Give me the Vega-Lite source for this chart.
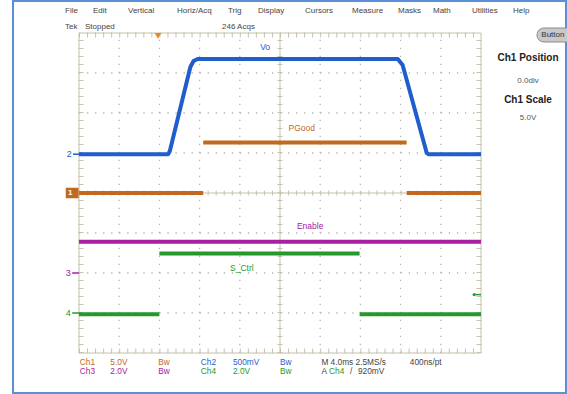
{
  "$schema": "https://vega.github.io/schema/vega-lite/v6.json",
  "width": 567,
  "height": 394,
  "padding": 0,
  "autosize": {"type": "none"},
  "background": "white",
  "config": {"view": {"stroke": null}, "text": {"font": "Liberation Sans"}},
  "datasets": {
    "traces": [
      {"ch": "Ch2", "seg": "a", "i": 0, "x": 0, "y": 4.97},
      {"ch": "Ch2", "seg": "a", "i": 1, "x": 2.22, "y": 4.97},
      {"ch": "Ch2", "seg": "a", "i": 2, "x": 2.26, "y": 5.05},
      {"ch": "Ch2", "seg": "a", "i": 3, "x": 2.77, "y": 7.15},
      {"ch": "Ch2", "seg": "a", "i": 4, "x": 2.85, "y": 7.3},
      {"ch": "Ch2", "seg": "a", "i": 5, "x": 2.95, "y": 7.35},
      {"ch": "Ch2", "seg": "a", "i": 6, "x": 7.93, "y": 7.35},
      {"ch": "Ch2", "seg": "a", "i": 7, "x": 8.05, "y": 7.2},
      {"ch": "Ch2", "seg": "a", "i": 8, "x": 8.65, "y": 5.0},
      {"ch": "Ch2", "seg": "a", "i": 9, "x": 8.7, "y": 4.97},
      {"ch": "Ch2", "seg": "a", "i": 10, "x": 10, "y": 4.97},
      {"ch": "Ch1", "seg": "a", "i": 0, "x": 0, "y": 4.0},
      {"ch": "Ch1", "seg": "a", "i": 1, "x": 3.09, "y": 4.0},
      {"ch": "Ch1", "seg": "b", "i": 2, "x": 3.09, "y": 5.26},
      {"ch": "Ch1", "seg": "b", "i": 3, "x": 8.15, "y": 5.26},
      {"ch": "Ch1", "seg": "c", "i": 4, "x": 8.15, "y": 4.0},
      {"ch": "Ch1", "seg": "c", "i": 5, "x": 10, "y": 4.0},
      {"ch": "Ch3", "seg": "a", "i": 0, "x": 0, "y": 2.78},
      {"ch": "Ch3", "seg": "a", "i": 1, "x": 10, "y": 2.78},
      {"ch": "Ch4", "seg": "a", "i": 0, "x": 0, "y": 0.97},
      {"ch": "Ch4", "seg": "a", "i": 1, "x": 2.0, "y": 0.97},
      {"ch": "Ch4", "seg": "b", "i": 2, "x": 2.0, "y": 2.49},
      {"ch": "Ch4", "seg": "b", "i": 3, "x": 6.98, "y": 2.49},
      {"ch": "Ch4", "seg": "c", "i": 4, "x": 6.98, "y": 0.97},
      {"ch": "Ch4", "seg": "c", "i": 5, "x": 10, "y": 0.97}
    ],
    "tracelabels": [
      {"ch": "Ch2", "text": "Vo", "x": 4.63, "y": 7.66},
      {"ch": "Ch1", "text": "PGood", "x": 5.54, "y": 5.63},
      {"ch": "Ch3", "text": "Enable", "x": 5.75, "y": 3.18},
      {"ch": "Ch4", "text": "S_Ctrl", "x": 4.05, "y": 2.12}
    ],
    "chmarks": [
      {"ch": "Ch2", "text": "2", "x": -0.24, "y": 4.97},
      {"ch": "Ch3", "text": "3", "x": -0.27, "y": 2.0},
      {"ch": "Ch4", "text": "4", "x": -0.27, "y": 1.0}
    ],
    "chdash": [
      {"ch": "Ch2", "x": -0.15, "x2": 0, "y": 4.97},
      {"ch": "Ch3", "x": -0.17, "x2": 0, "y": 2.0},
      {"ch": "Ch4", "x": -0.17, "x2": 0, "y": 1.0},
      {"ch": "Ch4", "x": 9.86, "x2": 10, "y": 1.46}
    ],
    "menu": [
      {"text": "File", "x": -0.348, "y": 8.55},
      {"text": "Edit", "x": 0.348, "y": 8.55},
      {"text": "Vertical", "x": 1.219, "y": 8.55},
      {"text": "Horiz/Acq", "x": 2.438, "y": 8.55},
      {"text": "Trig", "x": 3.706, "y": 8.55},
      {"text": "Display", "x": 4.453, "y": 8.55},
      {"text": "Cursors", "x": 5.622, "y": 8.55},
      {"text": "Measure", "x": 6.791, "y": 8.55},
      {"text": "Masks", "x": 7.935, "y": 8.55},
      {"text": "Math", "x": 8.806, "y": 8.55},
      {"text": "Utilities", "x": 9.776, "y": 8.55},
      {"text": "Help", "x": 10.796, "y": 8.55},
      {"text": "Tek", "x": -0.348, "y": 8.16},
      {"text": "Stopped", "x": 0.149, "y": 8.16},
      {"text": "246 Acqs", "x": 3.557, "y": 8.16}
    ],
    "footer": [
      {"ch": "Ch1", "text": "Ch1", "x": 0.02, "y": -0.24},
      {"ch": "Ch1", "text": "5.0V", "x": 0.78, "y": -0.24},
      {"ch": "Ch1", "text": "Bw", "x": 1.97, "y": -0.24},
      {"ch": "Ch2", "text": "Ch2", "x": 3.03, "y": -0.24},
      {"ch": "Ch2", "text": "500mV", "x": 3.83, "y": -0.24},
      {"ch": "Ch2", "text": "Bw", "x": 5.0, "y": -0.24},
      {"ch": "ui", "text": "M 4.0ms 2.5MS/s", "x": 6.03, "y": -0.24},
      {"ch": "ui", "text": "400ns/pt", "x": 8.23, "y": -0.24},
      {"ch": "Ch3", "text": "Ch3", "x": 0.02, "y": -0.47},
      {"ch": "Ch3", "text": "2.0V", "x": 0.78, "y": -0.47},
      {"ch": "Ch3", "text": "Bw", "x": 1.97, "y": -0.47},
      {"ch": "Ch4", "text": "Ch4", "x": 3.03, "y": -0.47},
      {"ch": "Ch4", "text": "2.0V", "x": 3.83, "y": -0.47},
      {"ch": "Ch4", "text": "Bw", "x": 5.0, "y": -0.47},
      {"ch": "ui", "text": "A", "x": 6.03, "y": -0.47},
      {"ch": "Ch4", "text": "Ch4", "x": 6.22, "y": -0.47},
      {"ch": "ui", "text": "/", "x": 6.74, "y": -0.47},
      {"ch": "ui", "text": "920mV", "x": 6.94, "y": -0.47}
    ],
    "panelbold": [
      {"text": "Ch1 Position", "x": 11.17, "y": 7.375},
      {"text": "Ch1 Scale", "x": 11.17, "y": 6.325}
    ],
    "panelval": [
      {"text": "0.0div", "x": 11.17, "y": 6.8},
      {"text": "5.0V", "x": 11.17, "y": 5.87}
    ]
  },
  "encoding": {
    "x": {"field": "x", "type": "quantitative", "scale": {"domain": [-1.9652, 12.1393], "nice": false, "zero": false}, "axis": null},
    "y": {"field": "y", "type": "quantitative", "scale": {"domain": [-1.025, 8.825], "nice": false, "zero": false}, "axis": null}
  },
  "layer": [
    {
      "data": {"values": [{"x": -1.642, "x2": 12.114, "y": -1.0, "y2": 8.8}]},
      "mark": {"type": "rect", "filled": false, "stroke": "#5b8fd6", "strokeWidth": 2},
      "encoding": {"x2": {"field": "x2"}, "y2": {"field": "y2"}}
    },
    {
      "data": {"values": [{"x": 11.393, "x2": 12.5, "y": 8.125, "y2": 7.775}]},
      "mark": {"type": "rect", "fill": "#c9c9c9", "stroke": "#8a8a8a", "strokeWidth": 1, "cornerRadius": 7},
      "encoding": {"x2": {"field": "x2"}, "y2": {"field": "y2"}}
    },
    {
      "data": {"values": [{"text": "Button", "x": 11.5, "y": 7.95}]},
      "mark": {"type": "text", "align": "left", "baseline": "middle", "fontSize": 8, "color": "#333333"},
      "encoding": {"text": {"field": "text"}}
    },
    {
      "data": {"values": [
        {"x": 1, "y": 0, "y2": 8}, {"x": 2, "y": 0, "y2": 8}, {"x": 3, "y": 0, "y2": 8}, {"x": 4, "y": 0, "y2": 8},
        {"x": 6, "y": 0, "y2": 8}, {"x": 7, "y": 0, "y2": 8}, {"x": 8, "y": 0, "y2": 8}, {"x": 9, "y": 0, "y2": 8}
      ]},
      "mark": {"type": "rule", "color": "#b4b4a8", "strokeWidth": 1.3, "strokeDash": [1.3, 6.7]},
      "encoding": {"y2": {"field": "y2"}}
    },
    {
      "data": {"values": [
        {"y": 1, "x": 0, "x2": 10}, {"y": 2, "x": 0, "x2": 10}, {"y": 3, "x": 0, "x2": 10},
        {"y": 5, "x": 0, "x2": 10}, {"y": 6, "x": 0, "x2": 10}, {"y": 7, "x": 0, "x2": 10}
      ]},
      "mark": {"type": "rule", "color": "#b4b4a8", "strokeWidth": 1.3, "strokeDash": [1.3, 6.74]},
      "encoding": {"x2": {"field": "x2"}}
    },
    {
      "data": {"values": [{"x": 0, "x2": 10, "y": 0, "y2": 8}]},
      "mark": {"type": "rect", "filled": false, "stroke": "#c6c2ac", "strokeWidth": 1},
      "encoding": {"x2": {"field": "x2"}, "y2": {"field": "y2"}}
    },
    {
      "data": {"values": [{"x": 5, "y": 0, "y2": 8}]},
      "mark": {"type": "rule", "color": "#c6c2ac", "strokeWidth": 1},
      "encoding": {"y2": {"field": "y2"}}
    },
    {
      "data": {"values": [{"x": 0, "x2": 10, "y": 4}]},
      "mark": {"type": "rule", "color": "#c6c2ac", "strokeWidth": 1},
      "encoding": {"x2": {"field": "x2"}}
    },
    {
      "data": {"values": [{"x": 5, "y": 0, "y2": 8}, {"x": 0.05, "y": 0, "y2": 8}, {"x": 9.95, "y": 0, "y2": 8}]},
      "mark": {"type": "rule", "color": "#c6c2ac", "strokeWidth": 5, "strokeDash": [1, 7]},
      "encoding": {"y2": {"field": "y2"}}
    },
    {
      "data": {"values": [{"x": 0, "x2": 10, "y": 4}, {"x": 0, "x2": 10, "y": 0.05}, {"x": 0, "x2": 10, "y": 7.95}]},
      "mark": {"type": "rule", "color": "#c6c2ac", "strokeWidth": 5, "strokeDash": [1, 7.04]},
      "encoding": {"x2": {"field": "x2"}}
    },
    {
      "data": {"name": "traces"},
      "mark": {"type": "line", "strokeWidth": 4, "strokeCap": "butt", "strokeJoin": "round"},
      "encoding": {
        "detail": {"field": "seg"},
        "order": {"field": "i", "type": "quantitative"},
        "color": {"field": "ch", "type": "nominal", "legend": null, "scale": {"domain": ["Ch1", "Ch2", "Ch3", "Ch4", "ui"], "range": ["#c0691f", "#1f5ecb", "#a6209f", "#25992b", "#444444"]}}
      }
    },
    {
      "data": {"name": "tracelabels"},
      "mark": {"type": "text", "align": "center", "baseline": "middle", "fontSize": 8.5},
      "encoding": {
        "text": {"field": "text"},
        "color": {"field": "ch", "type": "nominal", "legend": null, "scale": {"domain": ["Ch1", "Ch2", "Ch3", "Ch4", "ui"], "range": ["#c0691f", "#1f5ecb", "#a6209f", "#25992b", "#444444"]}}
      }
    },
    {
      "data": {"name": "chmarks"},
      "mark": {"type": "text", "align": "center", "baseline": "middle", "fontSize": 9},
      "encoding": {
        "text": {"field": "text"},
        "color": {"field": "ch", "type": "nominal", "legend": null, "scale": {"domain": ["Ch1", "Ch2", "Ch3", "Ch4", "ui"], "range": ["#c0691f", "#1f5ecb", "#a6209f", "#25992b", "#444444"]}}
      }
    },
    {
      "data": {"name": "chdash"},
      "mark": {"type": "rule", "strokeWidth": 1.5},
      "encoding": {
        "x2": {"field": "x2"},
        "color": {"field": "ch", "type": "nominal", "legend": null, "scale": {"domain": ["Ch1", "Ch2", "Ch3", "Ch4", "ui"], "range": ["#c0691f", "#1f5ecb", "#a6209f", "#25992b", "#444444"]}}
      }
    },
    {
      "data": {"values": [{"x": -0.33, "x2": -0.01, "y": 3.87, "y2": 4.13}]},
      "mark": {"type": "rect", "color": "#c0691f"},
      "encoding": {"x2": {"field": "x2"}, "y2": {"field": "y2"}}
    },
    {
      "data": {"values": [{"text": "1", "x": -0.22, "y": 4.0}]},
      "mark": {"type": "text", "align": "center", "baseline": "middle", "fontSize": 8, "fontWeight": "bold", "color": "white"},
      "encoding": {"text": {"field": "text"}}
    },
    {
      "data": {"values": [{"x": 1.965, "y": 7.93}]},
      "mark": {"type": "point", "shape": "triangle-down", "filled": true, "size": 45, "color": "#e8872b", "opacity": 1}
    },
    {
      "data": {"values": [{"x": 9.83, "y": 1.46}]},
      "mark": {"type": "point", "shape": "circle", "filled": true, "size": 10, "color": "#25992b", "opacity": 1}
    },
    {
      "data": {"name": "menu"},
      "mark": {"type": "text", "align": "left", "baseline": "middle", "fontSize": 8, "color": "#444444"},
      "encoding": {"text": {"field": "text"}}
    },
    {
      "data": {"name": "footer"},
      "mark": {"type": "text", "align": "left", "baseline": "middle", "fontSize": 8.3},
      "encoding": {
        "text": {"field": "text"},
        "color": {"field": "ch", "type": "nominal", "legend": null, "scale": {"domain": ["Ch1", "Ch2", "Ch3", "Ch4", "ui"], "range": ["#c0691f", "#1f5ecb", "#a6209f", "#25992b", "#444444"]}}
      }
    },
    {
      "data": {"name": "panelbold"},
      "mark": {"type": "text", "align": "center", "baseline": "middle", "fontSize": 10, "fontWeight": "bold", "color": "#222222"},
      "encoding": {"text": {"field": "text"}}
    },
    {
      "data": {"name": "panelval"},
      "mark": {"type": "text", "align": "center", "baseline": "middle", "fontSize": 8, "color": "#555555"},
      "encoding": {"text": {"field": "text"}}
    }
  ]
}
